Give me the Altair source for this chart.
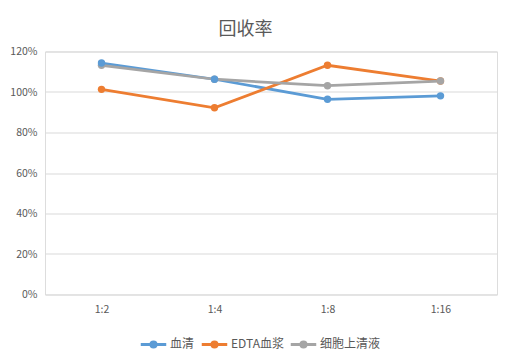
import altair as alt
import pandas as pd

categories = ["1:2", "1:4", "1:8", "1:16"]
series_names = ["血清", "EDTA血浆", "细胞上清液"]
serum = [1.143, 1.063, 0.964, 0.981]
edta = [1.013, 0.922, 1.132, 1.054]
supernatant = [1.132, 1.063, 1.031, 1.054]
colors = ["#5B9BD5", "#ED7D31", "#A5A5A5"]

rows = []
for name, vals in zip(series_names, [serum, edta, supernatant]):
    for c, v in zip(categories, vals):
        rows.append({"dilution": c, "series": name, "value": v})
df = pd.DataFrame(rows)

FONT = "Noto Sans CJK SC"
TXT = "#595959"
LEGEND_SYMBOL = "M-1,0L1,0M-0.2,0a0.2,0.2 0 1,0 0.4,0a0.2,0.2 0 1,0 -0.4,0"

chart = alt.Chart(df).mark_line(
    strokeWidth=2.75,
    point=alt.OverlayMarkDef(filled=True, size=55),
).encode(
    x=alt.X("dilution:N", sort=categories, title=None,
            scale=alt.Scale(paddingInner=0, paddingOuter=0.5),
            axis=alt.Axis(labelAngle=0, ticks=False, domain=False, grid=False,
                          labelPadding=10, labelFontSize=10.5, labelColor=TXT, labelFont=FONT)),
    y=alt.Y("value:Q", title=None,
            scale=alt.Scale(domain=[0, 1.2], nice=False),
            axis=alt.Axis(format=".0%", values=[0, 0.2, 0.4, 0.6, 0.8, 1.0, 1.2],
                          ticks=False, domain=False, gridColor="#D9D9D9", gridWidth=1,
                          labelPadding=8, labelFontSize=10.5, labelColor=TXT, labelFont=FONT)),
    color=alt.Color("series:N", sort=series_names,
                    scale=alt.Scale(domain=series_names, range=colors),
                    legend=alt.Legend(title=None, orient="none", direction="horizontal",
                                      legendX=94, legendY=278,
                                      symbolType=LEGEND_SYMBOL, symbolSize=650, symbolStrokeWidth=3,
                                      labelFontSize=12, labelColor=TXT, labelFont=FONT,
                                      columnPadding=0, labelOffset=2)),
    order=alt.Order("series:N"),
).properties(
    width=452,
    height=243,
    title=alt.TitleParams("回收率", fontSize=18, font=FONT, color=TXT, fontWeight="normal",
                          anchor="middle", frame="bounds", dx=-8, offset=8),
    autosize=alt.AutoSizeParams(type="none"),
    padding={"left": 37, "top": 43.5, "right": 8, "bottom": 63.5},
).configure_view(stroke=None).configure(background="white")

chart.save("out.html", embed_options={"renderer": "svg", "actions": False})
